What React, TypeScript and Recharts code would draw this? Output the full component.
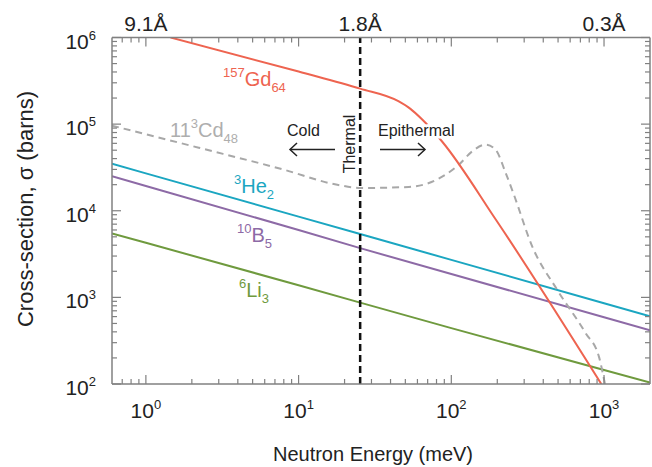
import React from "react";
import { LineChart, Line, XAxis, YAxis, ReferenceLine } from "recharts";

// energies in meV, cross-sections in barns
const STRAIGHT_E = [0.6, 1, 10, 25.3, 100, 1000, 2000];
const HE_S = [35000, 27000, 8560, 5380, 2710, 856, 605];
const B_S = [25100, 19300, 6000, 3700, 1860, 590, 417];
const LI_S = [5460, 4270, 1380, 870, 442, 145, 104];

const GD_E = [1.45, 10, 25.3, 45, 54, 64.5, 87, 196, 960];
const GD_S = [1000000, 405000, 257000, 184000, 150000, 113000, 63000, 7870, 100];

const CD_E = [0.6, 2.22, 8.0, 17.9, 25.5, 52.7, 71.3, 91.8, 112, 137, 168, 195, 227, 257, 339, 494, 759, 926, 1014];
const CD_S = [96000, 53400, 29800, 19950, 18300, 18800, 20900, 26100, 34000, 48500, 58000, 50700, 27300, 15300, 3860, 1220, 385, 207, 100];

const THERMAL_E = 25.3;

const X_MAJOR = [1, 10, 100, 1000];
const X_MINOR = [0.7, 0.8, 0.9, 2, 3, 4, 5, 6, 7, 8, 9, 20, 30, 40, 50, 60, 70, 80, 90, 200, 300, 400, 500, 600, 700, 800, 900];
const Y_MAJOR = [100, 1000, 10000, 100000, 1000000];
const Y_MINOR = [
  200, 300, 400, 500, 600, 700, 800, 900,
  2000, 3000, 4000, 5000, 6000, 7000, 8000, 9000,
  20000, 30000, 40000, 50000, 60000, 70000, 80000, 90000,
  200000, 300000, 400000, 500000, 600000, 700000, 800000, 900000,
];
const TOP_LABELS: Record<string, string> = { "1": "9.1Å", "25.3": "1.8Å", "1000": "0.3Å" };

const FONT = "'Liberation Sans', Arial, sans-serif";
const FRAME = "#808080";
const INK = "#222";
const C_GD = "#EE6450";
const C_CD = "#A8A8A8";
const C_HE = "#1BA6C1";
const C_B = "#8D6AA6";
const C_LI = "#6F9A3E";

const toRows = (es: number[], ss: number[]) => es.map((e, i) => ({ E: e, s: ss[i] }));

const heData = toRows(STRAIGHT_E, HE_S);
const bData = toRows(STRAIGHT_E, B_S);
const liData = toRows(STRAIGHT_E, LI_S);
const gdData = toRows(GD_E, GD_S);
const cdData = toRows(CD_E, CD_S);

const isMajor = (arr: number[], v: number) => arr.indexOf(v) >= 0;
const exp10 = (v: number) => String(Math.round(Math.log10(v)));

function BottomTick(props: any) {
  const { x, y, payload } = props;
  const major = isMajor(X_MAJOR, payload.value);
  return (
    <g>
      <line x1={x} x2={x} y1={y} y2={y - (major ? 9 : 5)} stroke={FRAME} strokeWidth={1.2} />
      {major && (
        <text x={x} y={y + 34} textAnchor="middle" fontSize={21} fill={INK} fontFamily={FONT}>
          10<tspan fontSize={13} dy={-9}>{exp10(payload.value)}</tspan>
        </text>
      )}
    </g>
  );
}

function TopTick(props: any) {
  const { x, y, payload } = props;
  const v = payload.value;
  const label = TOP_LABELS[String(v)];
  const tick = v !== THERMAL_E;
  const major = isMajor(X_MAJOR, v);
  return (
    <g>
      {tick && <line x1={x} x2={x} y1={y} y2={y + (major ? 9 : 5)} stroke={FRAME} strokeWidth={1.2} />}
      {label && (
        <text x={x} y={y - 7} textAnchor="middle" fontSize={21} fill={INK} fontFamily={FONT}>
          {label}
        </text>
      )}
    </g>
  );
}

function LeftTick(props: any) {
  const { x, y, payload } = props;
  const major = isMajor(Y_MAJOR, payload.value);
  return (
    <g>
      <line x1={x} x2={x + (major ? 9 : 5)} y1={y} y2={y} stroke={FRAME} strokeWidth={1.2} />
      {major && (
        <text x={x - 16} y={y + 11} textAnchor="end" fontSize={21} fill={INK} fontFamily={FONT}>
          10<tspan fontSize={13} dy={-9}>{exp10(payload.value)}</tspan>
        </text>
      )}
    </g>
  );
}

function RightTick(props: any) {
  const { x, y, payload } = props;
  const major = isMajor(Y_MAJOR, payload.value);
  return <line x1={x} x2={x - (major ? 9 : 5)} y1={y} y2={y} stroke={FRAME} strokeWidth={1.2} />;
}

function Isotope({ x, y, color, sup, main, sub, pre }: any) {
  return (
    <text x={x} y={y} fill={color} fontSize={20} fontFamily={FONT}>
      {pre && <tspan>{pre}</tspan>}
      <tspan fontSize={13} dy={-9}>{sup}</tspan>
      <tspan fontSize={20} dy={9}>{main}</tspan>
      <tspan fontSize={13} dy={6}>{sub}</tspan>
    </text>
  );
}

export default function App() {
  const xTicks = [...X_MINOR, ...X_MAJOR].sort((a, b) => a - b);
  const topTicks = [...xTicks, THERMAL_E].sort((a, b) => a - b);
  const yTicks = [...Y_MINOR, ...Y_MAJOR].sort((a, b) => a - b);

  return (
    <div style={{ position: "absolute", left: 0, top: 0, width: 652, height: 467, background: "#fff" }}>
      <LineChart width={652} height={467} margin={{ top: 36.5, right: 1, bottom: 82, left: 111 }}>
        <XAxis
          type="number"
          dataKey="E"
          scale="log"
          domain={[0.6, 2000]}
          allowDataOverflow
          ticks={xTicks}
          interval={0}
          height={1}
          tickSize={0}
          tickMargin={0}
          tickLine={false}
          tick={<BottomTick />}
          axisLine={{ stroke: FRAME, strokeWidth: 1.5 }}
        />
        <XAxis
          xAxisId="top"
          orientation="top"
          type="number"
          dataKey="E"
          scale="log"
          domain={[0.6, 2000]}
          allowDataOverflow
          ticks={topTicks}
          interval={0}
          height={1}
          tickSize={0}
          tickMargin={0}
          tickLine={false}
          tick={<TopTick />}
          axisLine={{ stroke: FRAME, strokeWidth: 1.5 }}
        />
        <YAxis
          type="number"
          scale="log"
          domain={[100, 1000000]}
          allowDataOverflow
          ticks={yTicks}
          interval={0}
          width={1}
          tickSize={0}
          tickMargin={0}
          tickLine={false}
          tick={<LeftTick />}
          axisLine={{ stroke: FRAME, strokeWidth: 1.5 }}
        />
        <YAxis
          yAxisId="right"
          orientation="right"
          type="number"
          scale="log"
          domain={[100, 1000000]}
          allowDataOverflow
          ticks={yTicks}
          interval={0}
          width={1}
          tickSize={0}
          tickMargin={0}
          tickLine={false}
          tick={<RightTick />}
          axisLine={{ stroke: FRAME, strokeWidth: 1.5 }}
        />
        <Line data={liData} dataKey="s" type="linear" stroke={C_LI} strokeWidth={2} dot={false} isAnimationActive={false} />
        <Line data={bData} dataKey="s" type="linear" stroke={C_B} strokeWidth={2} dot={false} isAnimationActive={false} />
        <Line data={heData} dataKey="s" type="linear" stroke={C_HE} strokeWidth={2} dot={false} isAnimationActive={false} />
        <Line data={cdData} dataKey="s" type="monotone" stroke={C_CD} strokeWidth={2} strokeDasharray="7 5" dot={false} isAnimationActive={false} />
        <Line data={gdData} dataKey="s" type="monotone" stroke={C_GD} strokeWidth={2} dot={false} isAnimationActive={false} />
        <ReferenceLine x={THERMAL_E} stroke="#111" strokeWidth={2.5} strokeDasharray="7 4" />
      </LineChart>

      <svg width={652} height={467} style={{ position: "absolute", left: 0, top: 0, pointerEvents: "none" }}>
        <Isotope x={223} y={86} color={C_GD} sup="157" main="Gd" sub="64" />
        <Isotope x={170} y={137} color="#AEAEAE" pre="11" sup="3" main="Cd" sub="48" />
        <Isotope x={234} y={193} color={C_HE} sup="3" main="He" sub="2" />
        <Isotope x={237} y={242} color={C_B} sup="10" main="B" sub="5" />
        <Isotope x={239} y={297} color={C_LI} sup="6" main="Li" sub="3" />

        <text x={287} y={136} fontSize={16} fill={INK} fontFamily={FONT}>Cold</text>
        <text
          x={378}
          y={136}
          fontSize={16}
          fill={INK}
          fontFamily={FONT}
          stroke="#fff"
          strokeWidth={5}
          style={{ paintOrder: "stroke" }}
        >
          Epithermal
        </text>
        <text transform="translate(355,144) rotate(-90)" textAnchor="middle" fontSize={16} fill={INK} fontFamily={FONT}>
          Thermal
        </text>

        <g stroke={INK} strokeWidth={1.5} fill="none">
          <line x1={335} y1={149.5} x2={290} y2={149.5} />
          <polyline points="297,143 290,149.5 297,156" />
          <line x1={380} y1={149.5} x2={425} y2={149.5} />
          <polyline points="418,143 425,149.5 418,156" />
        </g>

        <text x={373} y={461} textAnchor="middle" fontSize={20} fill={INK} fontFamily={FONT}>
          Neutron Energy (meV)
        </text>
        <text transform="translate(33,209) rotate(-90)" textAnchor="middle" fontSize={22} fill={INK} fontFamily={FONT}>
          Cross-section, σ (barns)
        </text>
      </svg>
    </div>
  );
}
